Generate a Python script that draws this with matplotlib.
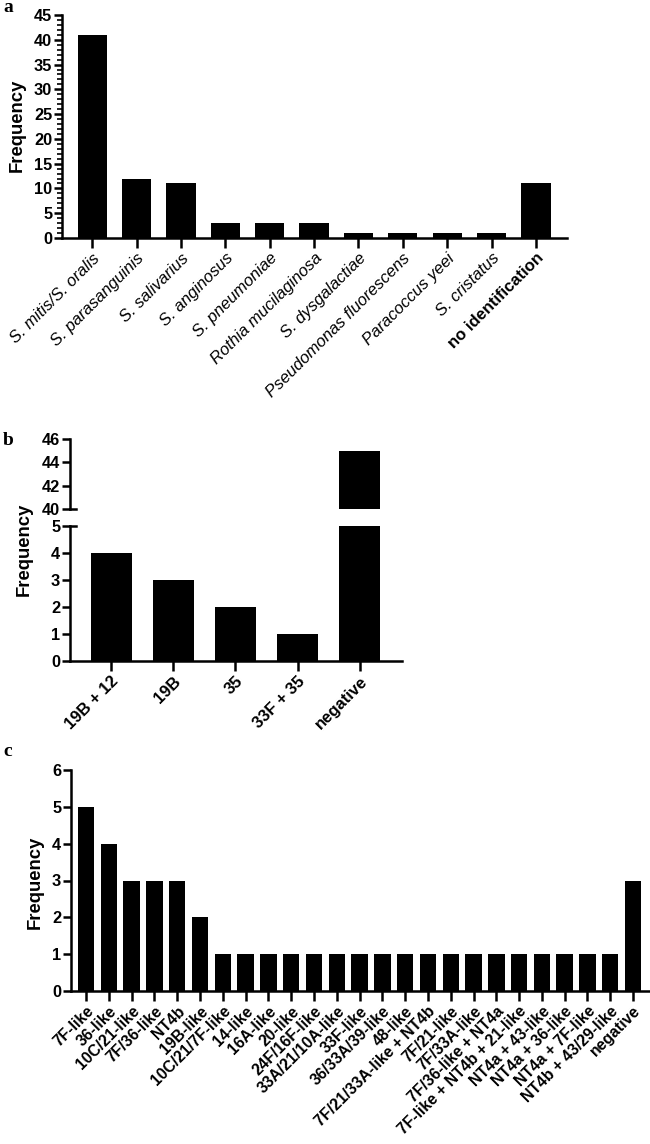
"""
Three bar charts: species identification (a), serotype results (b, broken axis),
and serotype-like results (c).
"""

import matplotlib.pyplot as plt
from matplotlib.ticker import MultipleLocator

plt.rcParams['font.family'] = ['Liberation Sans', 'DejaVu Sans']

# panel a
species = ["S. mitis/S. oralis", "S. parasanguinis", "S. salivarius", "S. anginosus",
           "S. pneumoniae", "Rothia mucilaginosa", "S. dysgalactiae",
           "Pseudomonas fluorescens", "Paracoccus yeei", "S. cristatus", "no identification"]
species_counts = [41, 12, 11, 3, 3, 3, 1, 1, 1, 1, 11]

# panel b
serotypes_b = ["19B + 12", "19B", "35", "33F + 35", "negative"]
counts_b = [4, 3, 2, 1, 45]

# panel c
serotypes_c = ["7F-like", "36-like", "10C/21-like", "7F/36-like", "NT4b", "19B-like",
               "10C/21/7F-like", "14-like", "16A-like", "20-like", "24F/16F-like",
               "33A/21/10A-like", "33F-like", "36/33A/39-like", "48-like",
               "7F/21/33A-like + NT4b", "7F/21-like", "7F/33A-like", "7F/36-like + NT4a",
               "7F-like + NT4b + 21-like", "NT4a + 43-like", "NT4a + 36-like",
               "NT4a + 7F-like", "NT4b + 43/29-like", "negative"]
counts_c = [5, 4, 3, 3, 3, 2, 1, 1, 1, 1, 1, 1, 1, 1, 1, 1, 1, 1, 1, 1, 1, 1, 1, 1, 3]

W, H = 650, 1144
LW = 1.8
TICK_FS = 11.8
LABEL_FS = 13.3


def box(x0, y0, x1, y1):
    """pixel box (top-left origin) -> figure fraction rect"""
    return [x0 / W, 1 - y1 / H, (x1 - x0) / W, (y1 - y0) / H]


def style(ax, bottom=True):
    ax.spines['top'].set_visible(False)
    ax.spines['right'].set_visible(False)
    ax.spines['left'].set_linewidth(LW)
    ax.spines['bottom'].set_linewidth(LW)
    if not bottom:
        ax.spines['bottom'].set_visible(False)
    ax.tick_params(axis='y', width=LW, length=6, labelsize=TICK_FS, pad=1)
    ax.tick_params(axis='x', width=LW, length=7, pad=2)
    ax.tick_params(axis='y', which='minor', width=1.2, length=3.5)
    for t in ax.get_yticklabels():
        t.set_fontweight('bold')


fig = plt.figure(figsize=(6.5, 11.44), dpi=100)

# ---- a ----
ax_a = fig.add_axes(box(62, 15, 567, 238))
ax_a.bar(range(len(species)), species_counts, width=0.66, color='black')
ax_a.set_xlim(-0.68, len(species) - 0.3)
ax_a.set_ylim(0, 45)
ax_a.yaxis.set_major_locator(MultipleLocator(5))
ax_a.yaxis.set_minor_locator(MultipleLocator(1))
ax_a.set_xticks(range(len(species)))
ax_a.set_xticklabels(species, rotation=45, ha='right', rotation_mode='anchor', fontsize=12)
for t in ax_a.get_xticklabels():
    if t.get_text() == "no identification":
        t.set_fontweight('bold')
    else:
        t.set_fontstyle('italic')
style(ax_a)

# ---- b (broken axis) ----
ax_bt = fig.add_axes(box(70, 439, 402, 509))
ax_bb = fig.add_axes(box(70, 526, 402, 661))
for ax in (ax_bt, ax_bb):
    ax.bar(range(len(serotypes_b)), counts_b, width=0.66, color='black')
    ax.set_xlim(-0.66, len(serotypes_b) - 0.32)
ax_bt.set_ylim(40, 46)
ax_bt.set_yticks([40, 42, 44, 46])
ax_bt.set_xticks([])
style(ax_bt, bottom=False)
ax_bb.set_ylim(0, 5)
ax_bb.set_yticks(range(0, 6))
ax_bb.set_xticks(range(len(serotypes_b)))
ax_bb.set_xticklabels(serotypes_b, rotation=45, ha='right', rotation_mode='anchor',
                      fontsize=12, fontweight='bold')
style(ax_bb)
# caps at the break (inner half of the end ticks)
cap = 6 / 332
ax_bt.plot([0, cap], [0, 0], transform=ax_bt.transAxes, color='black', lw=LW, clip_on=False)
ax_bb.plot([0, cap], [1, 1], transform=ax_bb.transAxes, color='black', lw=LW, clip_on=False)

# ---- c ----
ax_c = fig.add_axes(box(71, 770, 649, 991))
ax_c.bar(range(len(serotypes_c)), counts_c, width=0.72, color='black')
ax_c.set_xlim(-0.66, len(serotypes_c) - 0.3)
ax_c.set_ylim(0, 6)
ax_c.set_yticks(range(0, 7))
ax_c.set_xticks(range(len(serotypes_c)))
ax_c.set_xticklabels(serotypes_c, rotation=45, ha='right', rotation_mode='anchor',
                     fontsize=11.3, fontweight='bold')
style(ax_c)

# axis titles and panel letters
for x, y in [(17, 125), (24, 549), (35, 882)]:
    fig.text(x / W, 1 - y / H, "Frequency", rotation=90, ha='center', va='center',
             fontsize=LABEL_FS, fontweight='bold')
for letter, y in [("a", 8), ("b", 441), ("c", 752)]:
    fig.text(3 / W, 1 - y / H, letter, ha='left', va='center', fontsize=14,
             fontweight='bold', family=['Liberation Serif', 'DejaVu Serif'])

fig.savefig("out.png", dpi=100)
